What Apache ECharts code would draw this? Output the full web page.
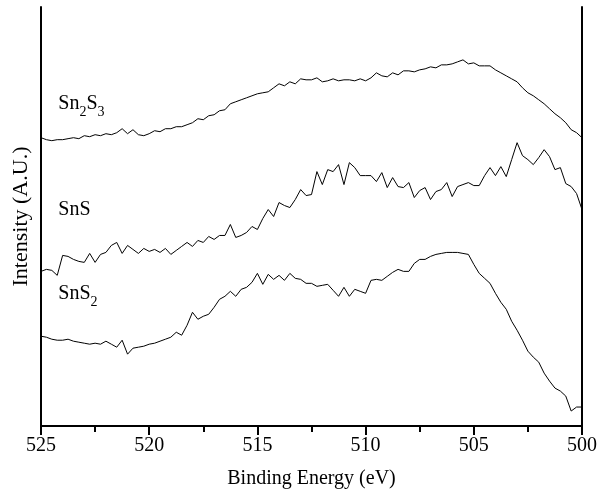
<!DOCTYPE html>
<html>
<head>
<meta charset="utf-8">
<script src="https://cdn.jsdelivr.net/npm/echarts@6/dist/echarts.min.js"></script>
<style>
  html, body { margin: 0; padding: 0; background: #fff; }
  #chart { width: 600px; height: 494px; }
</style>
</head>
<body>
<div id="chart"></div>
<script>
// binding energy grid, 525 -> 500 eV in 0.25 eV steps
const energies = []
for (let i = 0; i <= 100; i++) energies.push(525 - i * 0.25)

// intensities (arbitrary units, offset stacked)
const sn2s3 = [
  289, 287, 286, 287, 287, 288, 289, 288, 291, 290,
  292, 291, 293, 292, 294, 298, 293, 297, 292, 291,
  293, 296, 295, 298, 298, 300, 300, 302, 304, 308,
  307, 311, 312, 316, 317, 323, 325, 327, 329, 331,
  333, 334, 335, 339, 343, 341, 345, 343, 348, 347,
  347, 349, 345, 346, 348, 346, 347, 347, 346, 348,
  346, 349, 354, 351, 350, 354, 352, 356, 356, 355,
  357, 358, 360, 359, 362, 362, 363, 365, 367, 363,
  364, 361, 361, 361, 357, 354, 351, 348, 345, 339,
  334, 331, 327, 323, 318, 313, 309, 304, 297, 294,
  289
]
const sns = [
  155, 157, 156, 151, 171, 170, 167, 165, 164, 173,
  164, 172, 174, 181, 184, 173, 181, 177, 173, 178,
  175, 177, 174, 178, 172, 176, 180, 184, 180, 186,
  184, 190, 187, 191, 191, 202, 189, 191, 194, 200,
  197, 208, 217, 210, 224, 221, 219, 227, 237, 231,
  232, 255, 242, 257, 255, 262, 242, 264, 259, 251,
  251, 251, 245, 254, 239, 249, 240, 239, 244, 229,
  236, 239, 227, 235, 237, 244, 230, 240, 242, 244,
  241, 241, 251, 259, 251, 260, 250, 267, 284, 271,
  267, 262, 269, 277, 270, 257, 259, 243, 240, 233,
  217
]
const sns2 = [
  90, 89, 87, 86, 86, 87, 85, 84, 83, 82,
  83, 82, 85, 82, 79, 86, 72, 78, 79, 80,
  82, 83, 85, 87, 89, 94, 91, 101, 114, 107,
  110, 112, 119, 127, 130, 135, 130, 137, 139, 144,
  153, 142, 152, 147, 151, 146, 153, 148, 147, 143,
  143, 140, 141, 142, 136, 130, 139, 130, 137, 135,
  133, 146, 147, 146, 150, 154, 157, 155, 155, 163,
  167, 167, 170, 172, 173, 174, 174, 174, 173, 172,
  162, 153, 148, 143, 133, 124, 117, 105, 96, 86,
  75, 69, 64, 53, 45, 38, 35, 30, 15, 19,
  19
]

// curve labels: [energy, intensity] anchor + rich text
const curveLabels = [
  { at: [524.2, 325], text: '{a|Sn}{s|2}{a|S}{s|3}' },
  { at: [524.2, 219], text: '{a|SnS}' },
  { at: [524.2, 135], text: '{a|SnS}{s|2}' }
]

const font = 'Liberation Serif, Times New Roman, serif'
const chart = echarts.init(document.getElementById('chart'))

function toSeries (name, values) {
  return {
    name: name,
    type: 'line',
    data: energies.map((e, i) => [e, values[i]]),
    showSymbol: false,
    symbol: 'none',
    lineStyle: { color: '#000', width: 1 },
    animation: false
  }
}

chart.setOption({
  animation: false,
  grid: { left: 41, right: 14, top: 7, bottom: 67 },
  xAxis: {
    type: 'value',
    inverse: true,
    min: 500,
    max: 525,
    interval: 5,
    name: 'Binding Energy (eV)',
    nameLocation: 'middle',
    nameGap: 43,
    nameTextStyle: { fontFamily: font, fontSize: 20, color: '#000' },
    axisLine: { lineStyle: { color: '#000', width: 2 } },
    axisTick: { length: 9, lineStyle: { color: '#000', width: 2 } },
    minorTick: { show: true, splitNumber: 2, length: 6, lineStyle: { color: '#000', width: 2 } },
    axisLabel: { fontFamily: font, fontSize: 20, color: '#000', margin: 10 },
    splitLine: { show: false }
  },
  yAxis: [
    {
      type: 'value',
      min: 0,
      max: 420,
      name: 'Intensity (A.U.)',
      nameLocation: 'middle',
      nameGap: 9,
      nameTextStyle: { fontFamily: font, fontSize: 22, color: '#000' },
      axisLine: { show: true, lineStyle: { color: '#000', width: 2 } },
      axisTick: { show: false },
      axisLabel: { show: false },
      splitLine: { show: false }
    },
    {
      type: 'value',
      position: 'right',
      min: 0,
      max: 420,
      axisLine: { show: true, lineStyle: { color: '#000', width: 2 } },
      axisTick: { show: false },
      axisLabel: { show: false },
      splitLine: { show: false }
    }
  ],
  series: [
    toSeries('Sn2S3', sn2s3),
    toSeries('SnS', sns),
    toSeries('SnS2', sns2)
  ]
})

// place the curve names at data positions
chart.setOption({
  graphic: curveLabels.map(l => {
    const p = chart.convertToPixel({ gridIndex: 0 }, l.at)
    return {
      type: 'text',
      x: p[0],
      y: p[1],
      style: {
        text: l.text,
        verticalAlign: 'middle',
        rich: {
          a: { fontFamily: font, fontSize: 20, color: '#000', lineHeight: 24, verticalAlign: 'bottom' },
          s: { fontFamily: font, fontSize: 14, color: '#000', lineHeight: 18, verticalAlign: 'bottom', padding: [0, 0, -6, 0] }
        }
      }
    }
  })
})
</script>
</body>
</html>
